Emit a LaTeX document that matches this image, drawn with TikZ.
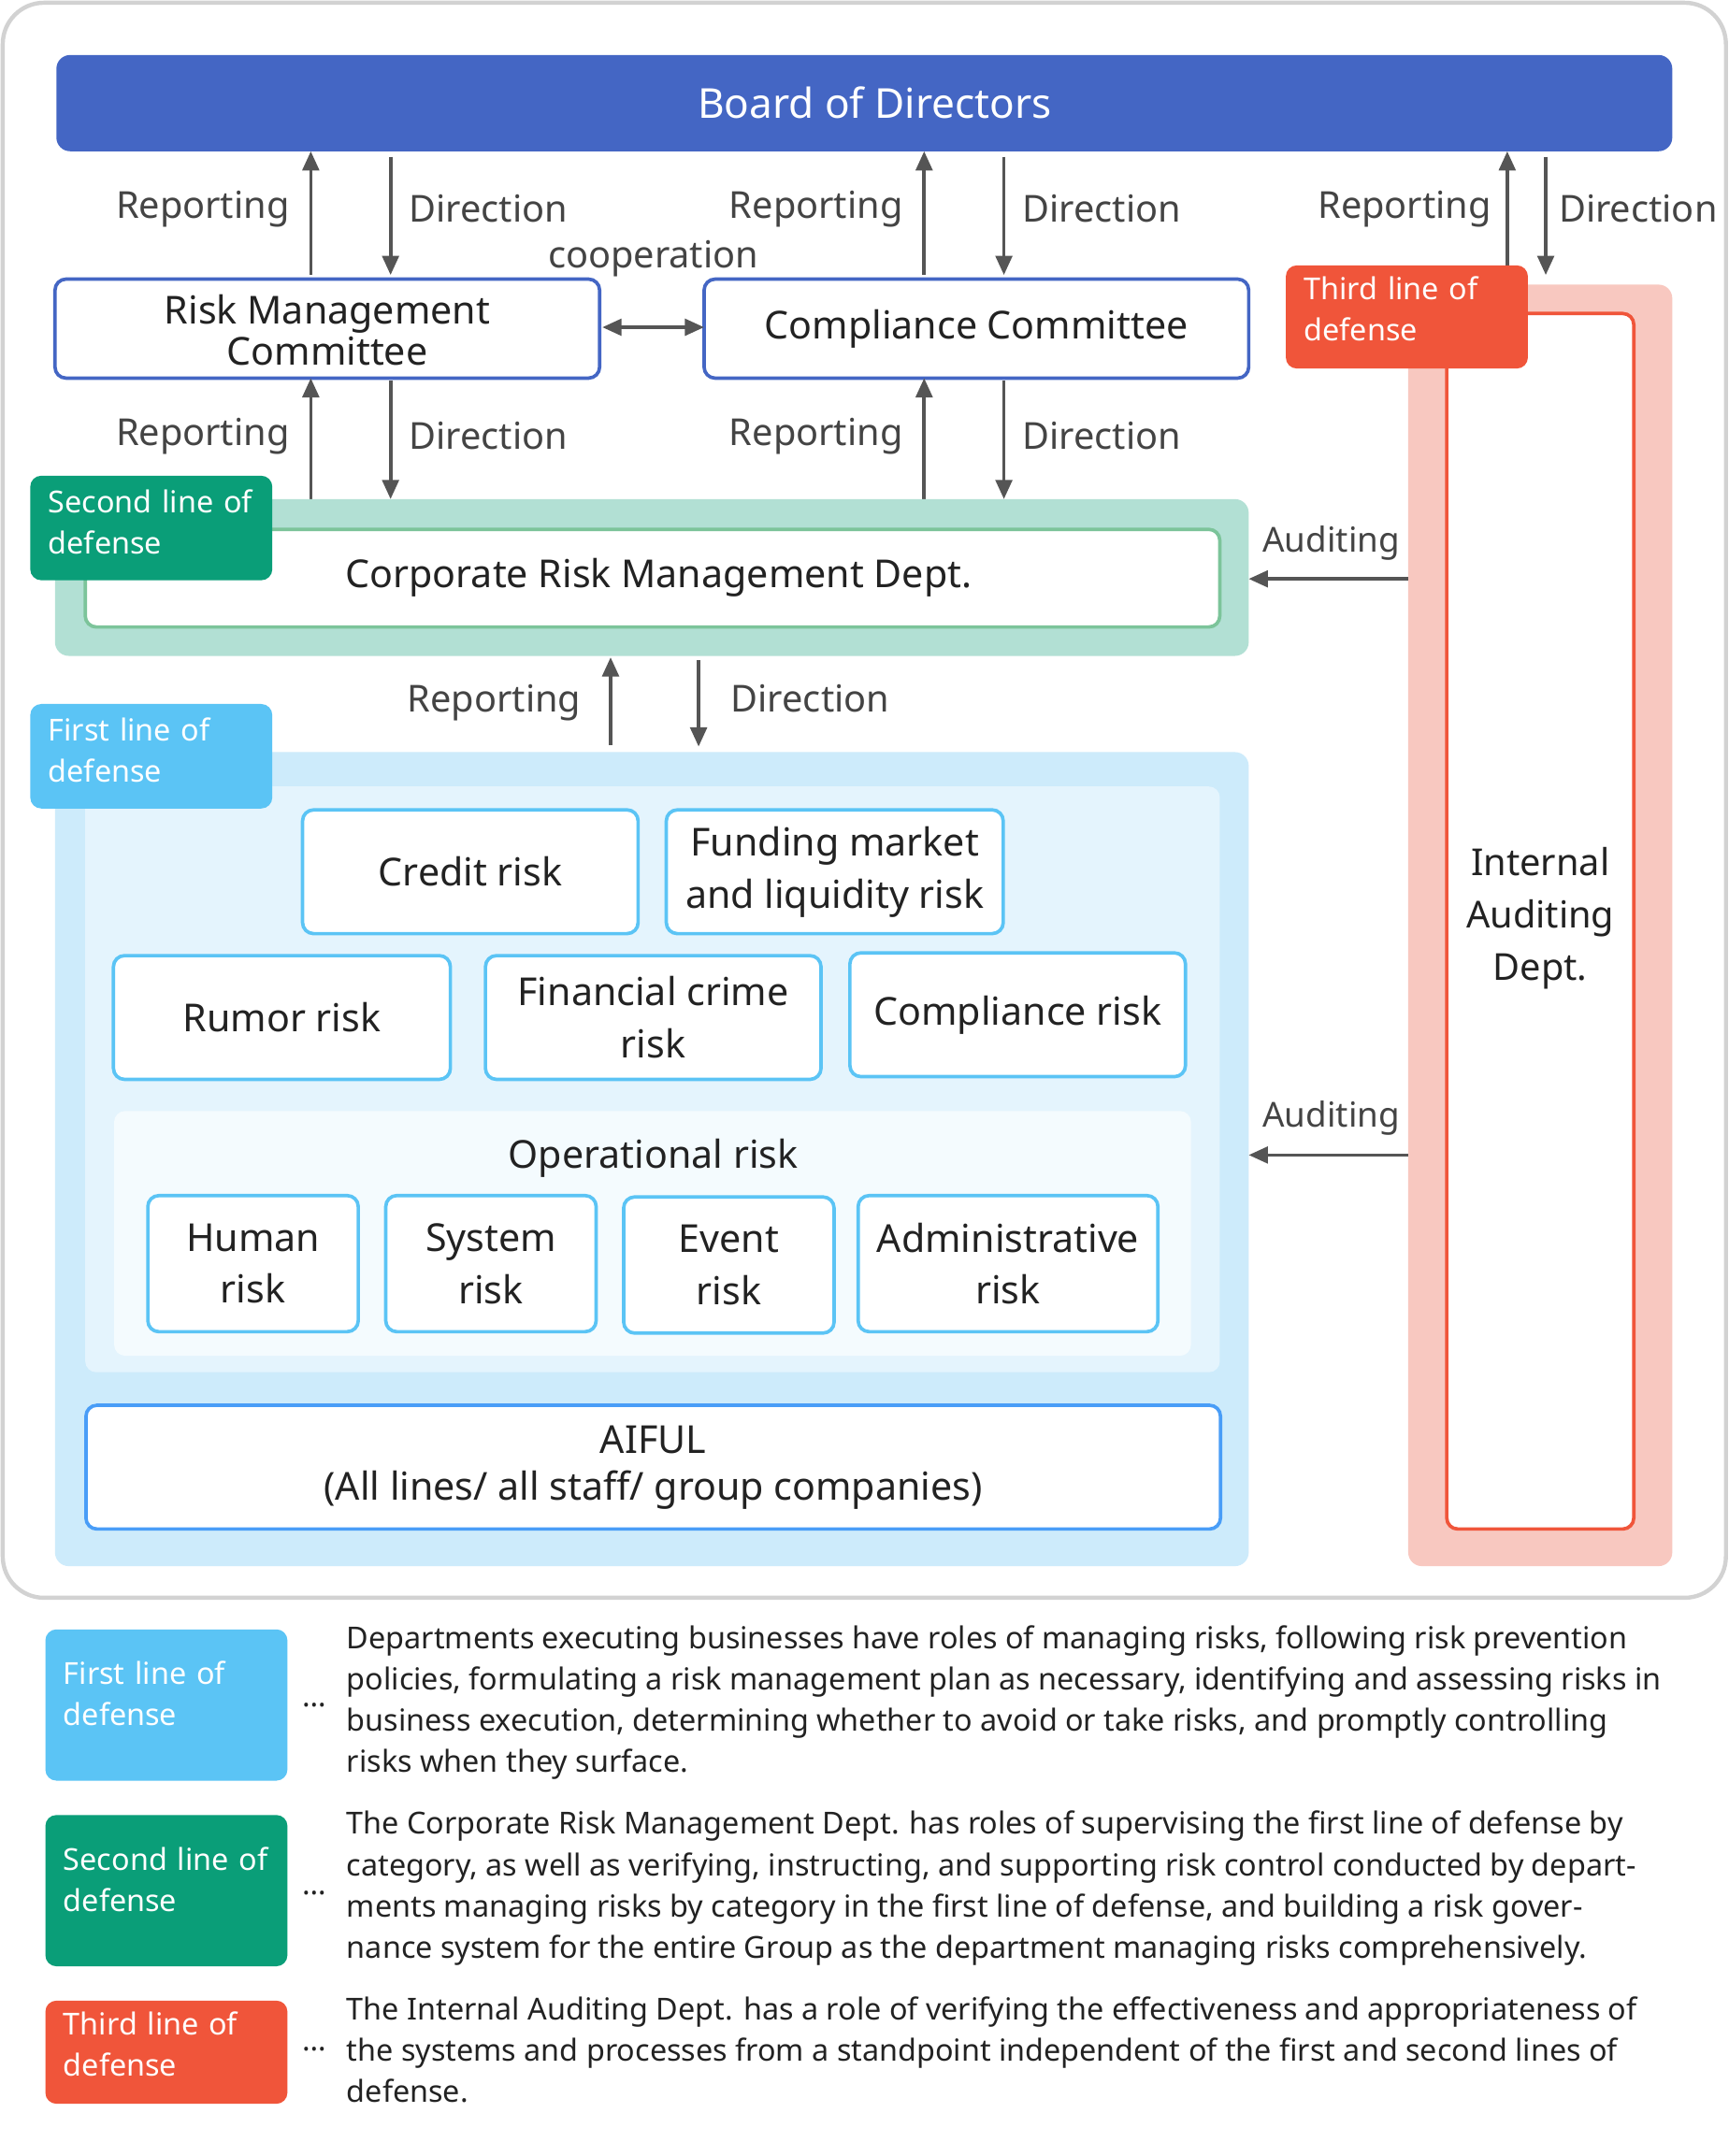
\documentclass[tikz,border=0pt]{standalone}
\usepackage{fontspec}
\setmainfont{Noto Sans}
\usetikzlibrary{arrows.meta}
\definecolor{bblue}{HTML}{4466C4}
\definecolor{tgreen}{HTML}{0A9E78}
\definecolor{lgreen}{HTML}{B2E0D4}
\definecolor{bgreen}{HTML}{7CC49A}
\definecolor{tblue}{HTML}{5BC4F5}
\definecolor{lblue}{HTML}{CDEBFB}
\definecolor{llblue}{HTML}{E4F4FD}
\definecolor{tred}{HTML}{F0553A}
\definecolor{lpink}{HTML}{F8C8C0}
\definecolor{txt}{HTML}{222222}
\definecolor{arr}{HTML}{555555}
\begin{document}
\begin{tikzpicture}[x=1pt,y=-1pt,
 lab/.style={font=\fontsize{27}{32}\selectfont,text=arr!80!black},
 ar/.style={-{Triangle[length=14pt,width=12pt]},line width=2.5pt,draw=arr},
 tag/.style={rounded corners=8pt,text=white,font=\fontsize{22}{30}\selectfont,align=left,anchor=north west,inner sep=0pt,text width=150pt},
 rbox/.style={draw=tblue,line width=2.5pt,fill=white,rounded corners=8pt,align=center,font=\fontsize{28}{38}\selectfont,text=txt},
 leg/.style={font=\fontsize{22}{30}\selectfont,anchor=north west,align=left,text=txt,inner sep=0pt}]
\useasboundingbox (0,0) rectangle (1257,1568);
\fill[white] (0,0) rectangle (1257,1568);
\draw[gray!35,line width=3pt,rounded corners=30pt] (2,2) rectangle (1255,1162);
% board
\fill[bblue,rounded corners=10pt] (41,40) rectangle (1216,110);
\node[text=white,font=\fontsize{30}{36}\selectfont] (board) at (636,75) {Board of Directors};
% committees
\draw[bblue,line width=2.5pt,fill=white,rounded corners=8pt] (40,203) rectangle (436,275);
\node[align=center,font=\fontsize{28}{30}\selectfont,text=txt] (rmc) at (238,240) {Risk Management\\Committee};
\draw[bblue,line width=2.5pt,fill=white,rounded corners=8pt] (512,203) rectangle (908,275);
\node[font=\fontsize{28}{30}\selectfont,text=txt] (cc) at (710,239) {Compliance Committee};
\coordinate (c1) at (438,238); \coordinate (c2) at (512,238);
\draw[{Triangle[length=14pt,width=12pt]}-{Triangle[length=14pt,width=12pt]},line width=2.5pt,draw=arr] (c1) -- (c2);
\node[lab] at (475,188) {cooperation};
% board arrows
\foreach \r/\d in {226/284,672/730,1096/1124}{
 \draw[ar] (\r,200) -- (\r,110);
 \draw[ar] (\d,114) -- (\d,200);}
\node[lab,anchor=east] at (214,152) {Reporting};
\node[lab,anchor=west] at (294,152) {Direction};
\node[lab,anchor=east] at (660,152) {Reporting};
\node[lab,anchor=west] at (740,152) {Direction};
\node[lab,anchor=east] at (1088,152) {Reporting};
\node[lab,anchor=west] at (1130,152) {Direction};
% second row arrows
\foreach \r/\d in {226/284,672/730}{
 \draw[ar] (\r,363) -- (\r,275);
 \draw[ar] (\d,277) -- (\d,363);}
\node[lab,anchor=east] at (214,317) {Reporting};
\node[lab,anchor=west] at (294,317) {Direction};
\node[lab,anchor=east] at (660,317) {Reporting};
\node[lab,anchor=west] at (740,317) {Direction};
% second line
\fill[lgreen,rounded corners=10pt] (40,363) rectangle (908,477);
\draw[bgreen,line width=2.5pt,fill=white,rounded corners=8pt] (62,385) rectangle (887,456);
\node[font=\fontsize{28}{30}\selectfont,text=txt] (crm) at (479,420) {Corporate Risk Management Dept.};
\fill[tgreen,rounded corners=8pt] (22,346) rectangle (198,422);
\node[tag] at (35,356) {Second line of\\defense};
% crm arrows
\draw[ar] (444,542) -- (444,478);
\draw[ar] (508,480) -- (508,543);
\node[lab,anchor=east] at (426,511) {Reporting};
\node[lab,anchor=west] at (528,508) {Direction};
% first line
\fill[lblue,rounded corners=10pt] (40,547) rectangle (908,1139);
\fill[llblue,rounded corners=8pt] (62,572) rectangle (887,998);
\fill[tblue,rounded corners=8pt] (22,512) rectangle (198,588);
\node[tag] at (35,522) {First line of\\defense};
\node[rbox,minimum width=244pt,minimum height=90pt] (credit) at (342,634) {Credit risk};
\node[rbox,minimum width=245pt,minimum height=90pt] (fund) at (607,634) {Funding market\\and liquidity risk};
\node[rbox,minimum width=245pt,minimum height=90pt] (rumor) at (205,740) {Rumor risk};
\node[rbox,minimum width=244pt,minimum height=90pt] (fin) at (475,740) {Financial crime\\risk};
\node[rbox,minimum width=244pt,minimum height=90pt] (comp) at (740,738) {Compliance risk};
\fill[white!60!llblue,rounded corners=8pt] (83,808) rectangle (866,986);
\node[font=\fontsize{28}{30}\selectfont,text=txt] (op) at (475,842) {Operational risk};
\node[rbox,minimum width=153pt,minimum height=99pt] (human) at (184,919) {Human\\risk};
\node[rbox,minimum width=153pt,minimum height=99pt] (sys) at (357,919) {System\\risk};
\node[rbox,minimum width=153pt,minimum height=99pt] (event) at (530,920) {Event\\risk};
\node[rbox,minimum width=218pt,minimum height=99pt] (admin) at (733,919) {Administrative\\risk};
\node[rbox,draw=tblue!80!blue,minimum width=825pt,minimum height=90pt,font=\fontsize{28}{34}\selectfont] (aiful) at (475,1067) {AIFUL\\(All lines/ all staff/ group companies)};
% third line
\fill[lpink,rounded corners=10pt] (1024,207) rectangle (1216,1139);
\draw[tred,line width=2.5pt,fill=white,rounded corners=8pt] (1052,228) rectangle (1188,1112);
\node[align=center,font=\fontsize{27}{38}\selectfont,text=txt] (iad) at (1120,668) {Internal\\Auditing\\Dept.};
\fill[tred,rounded corners=8pt] (935,193) rectangle (1111,268);
\node[tag] at (948,201) {Third line of\\defense};
\coordinate (a1) at (1024,421); \coordinate (a1e) at (908,421);
\coordinate (a2) at (1024,840); \coordinate (a2e) at (908,840);
\draw[ar] (a1) -- (a1e);
\draw[ar] (a2) -- (a2e);
\node[lab,font=\fontsize{25}{30}\selectfont] at (968,395) {Auditing};
\node[lab,font=\fontsize{25}{30}\selectfont] at (968,813) {Auditing};
% legend
\fill[tblue,rounded corners=8pt] (33,1185) rectangle (209,1295);
\node[tag] at (46,1208) {First line of\\defense};
\fill[tgreen,rounded corners=8pt] (33,1320) rectangle (209,1430);
\node[tag] at (46,1343) {Second line of\\defense};
\fill[tred,rounded corners=8pt] (33,1455) rectangle (209,1530);
\node[tag] at (46,1463) {Third line of\\defense};
\node[leg,anchor=center] at (229,1240) {\dots};
\node[leg,anchor=center] at (229,1377) {\dots};
\node[leg,anchor=center] at (229,1490) {\dots};
\node[leg] at (252,1182) {Departments executing businesses have roles of managing risks, following risk prevention\\policies, formulating a risk management plan as necessary, identifying and assessing risks in\\business execution, determining whether to avoid or take risks, and promptly controlling\\risks when they surface.};
\node[leg] at (252,1317) {The Corporate Risk Management Dept. has roles of supervising the first line of defense by\\category, as well as verifying, instructing, and supporting risk control conducted by depart-\\ments managing risks by category in the first line of defense, and building a risk gover-\\nance system for the entire Group as the department managing risks comprehensively.};
\node[leg] at (252,1452) {The Internal Auditing Dept. has a role of verifying the effectiveness and appropriateness of\\the systems and processes from a standpoint independent of the first and second lines of\\defense.};
\end{tikzpicture}
\end{document}
